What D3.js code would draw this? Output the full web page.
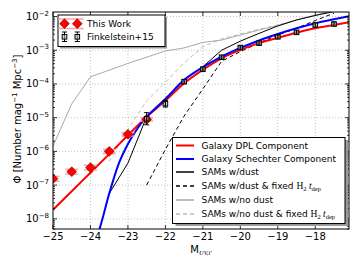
<!DOCTYPE html>
<html><head><meta charset="utf-8">
<script src="https://cdn.jsdelivr.net/npm/d3@7"></script>
<style>body{margin:0;background:#fff} svg{font-family:"DejaVu Sans",sans-serif}</style>
</head><body><svg id="c" width="360" height="270"></svg>
<script>
// ---- data ----
const xTicks = [-25,-24,-23,-22,-21,-20,-19,-18];
const xTickLabels = ["−25","−24","−23","−22","−21","−20","−19","−18"];
const yTicks = [1e-8,1e-7,1e-6,1e-5,1e-4,1e-3,1e-2];
const yTickExps = ["−8","−7","−6","−5","−4","−3","−2"];

const thisWorkM   = [-25,-24.5,-24,-23.5,-23,-22.5];
const thisWorkPhi = [1.55e-7,2.5e-7,3.3e-7,1.0e-6,3.2e-6,8.9e-6];
const thisWorkErrDex = [0.07,0.07,0.07,0.06,0.05,0.05];

const finkM   = [-22.5,-22,-21.5,-21,-20.5,-20,-19.5,-19,-18.5,-18,-17.5];
const finkPhi = [9.3e-6,2.6e-5,1.17e-4,2.75e-4,6.2e-4,1.2e-3,1.62e-3,2.5e-3,3.4e-3,5.6e-3,6.0e-3];
const finkErrDex = [0.18,0.1,0.06,0.04,0.04,0.04,0.04,0.04,0.04,0.04,0.04];

const dplM   = [-25,-24.5,-24,-23.5,-23,-22.5,-22,-21.5,-21,-20.5,-20,-19.5,-19,-18.5,-18,-17.5,-17.1];
const dplPhi = [1.86e-8,6.6e-8,2.34e-7,8.3e-7,3.0e-6,1.07e-5,3.16e-5,1.05e-4,2.63e-4,5.75e-4,1.02e-3,1.62e-3,2.34e-3,3.31e-3,4.47e-3,5.62e-3,6.76e-3];

const schM   = [-23.9,-23.75,-23.5,-23.25,-23,-22.75,-22.5,-22,-21.5,-21,-20.5,-20,-19.5,-19,-18.5,-18,-17.5,-17.1];
const schPhi = [1.78e-9,5.4e-9,5.6e-8,4.2e-7,1.66e-6,4.7e-6,1.05e-5,3.55e-5,1.32e-4,3.16e-4,6.46e-4,1.17e-3,1.95e-3,3.02e-3,4.47e-3,6.3e-3,8.3e-3,1.02e-2];

const samDustM   = [-23.5,-23,-22.5,-22,-21.5,-21,-20.5,-20,-19.5,-19,-18.5,-18,-17.5];
const samDustPhi = [5.6e-8,4.5e-7,1.07e-5,3.8e-5,1.32e-4,3.24e-4,1.0e-3,1.86e-3,3.16e-3,5.25e-3,7.9e-3,1.07e-2,1.41e-2];

const samDustFixM   = [-22.5,-22,-21.5,-21,-20.5,-20,-19.5,-19,-18.5,-18,-17.5];
const samDustFixPhi = [1.0e-7,1.15e-6,1.12e-5,7.1e-5,4.7e-4,9.1e-4,1.66e-3,2.82e-3,4.47e-3,7.6e-3,1.26e-2];

const samNoDustM   = [-25,-24.5,-24,-23,-22,-21.5,-21,-20.5,-20,-19.5,-19,-18.5,-18,-17.5];
const samNoDustPhi = [1.45e-6,2.57e-5,1.62e-4,4.07e-4,9.5e-4,1.17e-3,1.7e-3,2.0e-3,2.82e-3,3.98e-3,5.4e-3,7.9e-3,1.1e-2,1.48e-2];

const samNoDustFixM   = [-23.5,-23,-22.5,-22,-21.5,-21,-20.5,-20,-19.5,-19,-18.5,-18,-17.5];
const samNoDustFixPhi = [5.0e-7,4.5e-6,3.16e-5,1.12e-4,4.2e-4,1.26e-3,2.19e-3,3.0e-3,4.2e-3,5.6e-3,7.9e-3,1.1e-2,1.48e-2];

// ---- layout ----
const L=53, R=349, T=12, B=229;
const svg = d3.select("#c");
const x = d3.scaleLinear().domain([-25,-17.1]).range([L,R]);
const y = d3.scaleLog().domain([5e-9,1.36e-2]).range([B,T]);

svg.append("defs").append("clipPath").attr("id","clip")
  .append("rect").attr("x",L).attr("y",T).attr("width",R-L).attr("height",B-T);

// grid
const grid = svg.append("g").attr("stroke","#000").attr("stroke-opacity",0.4)
  .attr("stroke-width",0.6).attr("stroke-dasharray","1,2");
xTicks.slice(1).forEach(t=>grid.append("line").attr("x1",x(t)).attr("x2",x(t)).attr("y1",T).attr("y2",B));
yTicks.forEach(t=>grid.append("line").attr("x1",L).attr("x2",R).attr("y1",y(t)).attr("y2",y(t)));

const plot = svg.append("g").attr("clip-path","url(#clip)");
const zip=(a,b)=>a.map((v,i)=>[v,b[i]]);
const lin = d3.line().x(d=>x(d[0])).y(d=>y(d[1]));
const smooth = d3.line().x(d=>x(d[0])).y(d=>y(d[1])).curve(d3.curveMonotoneX);

function path(gen,data,color,w,dash){
  const p=plot.append("path").attr("d",gen(data)).attr("fill","none")
   .attr("stroke",color).attr("stroke-width",w).attr("stroke-linejoin","round");
  if(dash) p.attr("stroke-dasharray",dash);
}
path(lin,zip(samNoDustFixM,samNoDustFixPhi),"#bdbdbd",1,"4,3");
path(lin,zip(samNoDustM,samNoDustPhi),"#a8a8a8",1);
path(lin,zip(samDustFixM,samDustFixPhi),"#000",1,"4,3");
path(lin,zip(samDustM,samDustPhi),"#000",1);
path(smooth,zip(dplM,dplPhi),"#ff0000",2);
path(smooth,zip(schM,schPhi),"#0000ff",2);

// This Work error bars + diamonds
const pink="#f5a3a3";
thisWorkM.forEach((m,i)=>{
  const cx=x(m), v=thisWorkPhi[i], e=thisWorkErrDex[i];
  const y1=y(v*Math.pow(10,e)), y2=y(v/Math.pow(10,e));
  plot.append("line").attr("x1",cx).attr("x2",cx).attr("y1",y1).attr("y2",y2).attr("stroke",pink).attr("stroke-width",1.5);
  [y1,y2].forEach(yy=>plot.append("line").attr("x1",cx-6.5).attr("x2",cx+6.5).attr("y1",yy).attr("y2",yy).attr("stroke",pink).attr("stroke-width",1.5));
});
const diamond = d3.symbol().type(d3.symbolSquare).size(48);
thisWorkM.forEach((m,i)=>{
  plot.append("path").attr("d",diamond()).attr("transform",`translate(${x(m)},${y(thisWorkPhi[i])}) rotate(45)`)
    .attr("fill","#ff0000").attr("stroke","#700").attr("stroke-width",0.6);
});
// Finkelstein points
finkM.forEach((m,i)=>{
  const cx=x(m), v=finkPhi[i], e=finkErrDex[i];
  const y1=y(v*Math.pow(10,e)), y2=y(v/Math.pow(10,e));
  plot.append("line").attr("x1",cx).attr("x2",cx).attr("y1",y1).attr("y2",y2).attr("stroke","#000").attr("stroke-width",1);
  [y1,y2].forEach(yy=>plot.append("line").attr("x1",cx-2.5).attr("x2",cx+2.5).attr("y1",yy).attr("y2",yy).attr("stroke","#000").attr("stroke-width",1));
  plot.append("rect").attr("x",cx-2.3).attr("y",y(v)-2.3).attr("width",4.6).attr("height",4.6)
    .attr("fill","#bbb").attr("fill-opacity",0.6).attr("stroke","#000").attr("stroke-width",1);
  plot.append("line").attr("x1",cx).attr("x2",cx).attr("y1",y(v)-2.3).attr("y2",y(v)+2.3).attr("stroke","#000").attr("stroke-width",1);
});

// frame
svg.append("rect").attr("x",L).attr("y",T).attr("width",R-L).attr("height",B-T)
  .attr("fill","none").attr("stroke","#000").attr("stroke-width",1);

// ticks
const tk = svg.append("g").attr("stroke","#000").attr("stroke-width",0.8);
xTicks.forEach(t=>{
  tk.append("line").attr("x1",x(t)).attr("x2",x(t)).attr("y1",B).attr("y2",B-4);
  tk.append("line").attr("x1",x(t)).attr("x2",x(t)).attr("y1",T).attr("y2",T+4);
});
yTicks.forEach(t=>{
  tk.append("line").attr("x1",L).attr("x2",L+4).attr("y1",y(t)).attr("y2",y(t));
  tk.append("line").attr("x1",R).attr("x2",R-4).attr("y1",y(t)).attr("y2",y(t));
});
const [y0,y1d]=y.domain();
for(let d=-9; d<=-2; d++){
  for(let k=2;k<=9;k++){
    const v=k*Math.pow(10,d);
    if(v<y0||v>y1d) continue;
    tk.append("line").attr("x1",L).attr("x2",L+2).attr("y1",y(v)).attr("y2",y(v));
    tk.append("line").attr("x1",R).attr("x2",R-2).attr("y1",y(v)).attr("y2",y(v));
  }
}

// tick labels
xTicks.forEach((t,i)=>{
  svg.append("text").attr("x",x(t)).attr("y",240).attr("text-anchor","middle")
    .attr("font-size",10).text(xTickLabels[i]);
});
yTicks.forEach((t,i)=>{
  const tx=svg.append("text").attr("x",49).attr("y",y(t)+3.5).attr("text-anchor","end").attr("font-size",10);
  tx.append("tspan").text("10");
  tx.append("tspan").attr("font-size",7).attr("dy",-4.5).text(yTickExps[i]);
});

// axis labels
const xl=svg.append("text").attr("x",201).attr("y",253).attr("text-anchor","middle").attr("font-size",10);
xl.append("tspan").text("M");
xl.append("tspan").attr("font-size",6.5).attr("dy",2).attr("font-family","Liberation Serif").attr("font-style","italic").text("UV,i′");

const yl=svg.append("text").attr("transform","translate(21,119) rotate(-90)").attr("text-anchor","middle").attr("font-size",10);
yl.append("tspan").text("Φ [Number mag");
yl.append("tspan").attr("font-size",7).attr("dy",-4).text("−1");
yl.append("tspan").attr("dy",4).text(" Mpc");
yl.append("tspan").attr("font-size",7).attr("dy",-4).text("−3");
yl.append("tspan").attr("dy",4).text("]");

// legend 1
const l1=svg.append("g");
l1.append("rect").attr("x",60).attr("y",17).attr("width",107).attr("height",31.5).attr("fill","#999");
l1.append("rect").attr("x",58).attr("y",15).attr("width",107).attr("height",31.5).attr("fill","#fff").attr("stroke","#000").attr("stroke-width",1);
[64.5,77.3].forEach(cx=>{
  l1.append("line").attr("x1",cx).attr("x2",cx).attr("y1",19).attr("y2",28.5).attr("stroke",pink).attr("stroke-width",1.5);
  [19,28.5].forEach(yy=>l1.append("line").attr("x1",cx-6.3).attr("x2",cx+6.3).attr("y1",yy).attr("y2",yy).attr("stroke",pink).attr("stroke-width",1.5));
  l1.append("path").attr("d",diamond()).attr("transform",`translate(${cx},23.7) rotate(45)`).attr("fill","#ff0000").attr("stroke","#700").attr("stroke-width",0.6);
  l1.append("line").attr("x1",cx).attr("x2",cx).attr("y1",32).attr("y2",41.5).attr("stroke","#000");
  [32,41.5].forEach(yy=>l1.append("line").attr("x1",cx-2.5).attr("x2",cx+2.5).attr("y1",yy).attr("y2",yy).attr("stroke","#000"));
  l1.append("rect").attr("x",cx-2.3).attr("y",34.5).attr("width",4.6).attr("height",4.6).attr("fill","#bbb").attr("fill-opacity",0.6).attr("stroke","#000");
});
l1.append("text").attr("x",87).attr("y",27.2).attr("font-size",9).text("This Work");
l1.append("text").attr("x",87).attr("y",40.2).attr("font-size",9).text("Finkelstein+15");

// legend 2
const l2=svg.append("g");
l2.append("rect").attr("x",175.5).attr("y",140).attr("width",172.5).attr("height",86).attr("fill","#999");
l2.append("rect").attr("x",172.5).attr("y",137.5).attr("width",172.5).attr("height",86).attr("fill","#fff").attr("stroke","#000").attr("stroke-width",1);
const legItems=[
  {c:"#ff0000",w:2,d:null,t:"Galaxy DPL Component",y:145.5},
  {c:"#0000ff",w:2,d:null,t:"Galaxy Schechter Component",y:159},
  {c:"#000",w:1.5,d:null,t:"SAMs w/dust",y:172},
  {c:"#000",w:1.5,d:"4,3",t:"SAMs w/dust & fixed ",y:186,m:true},
  {c:"#a8a8a8",w:1.5,d:null,t:"SAMs w/no dust",y:200},
  {c:"#bdbdbd",w:1.5,d:"4,3",t:"SAMs w/no dust & fixed ",y:214,m:true}
];
legItems.forEach(it=>{
  const ln=l2.append("line").attr("x1",176).attr("x2",194).attr("y1",it.y).attr("y2",it.y).attr("stroke",it.c).attr("stroke-width",it.w);
  if(it.d) ln.attr("stroke-dasharray",it.d);
  const tx=l2.append("text").attr("x",201.5).attr("y",it.y+3.3).attr("font-size",9);
  tx.append("tspan").text(it.t);
  if(it.m){
    tx.append("tspan").attr("font-family","Liberation Serif").attr("font-size",9.5).text("H");
    tx.append("tspan").attr("font-family","Liberation Serif").attr("font-size",6.5).attr("dy",1.8).text("2");
    tx.append("tspan").attr("font-family","Liberation Serif").attr("font-style","italic").attr("font-size",9.5).attr("dy",-1.8).text(" t");
    tx.append("tspan").attr("font-family","Liberation Serif").attr("font-size",6.5).attr("dy",1.8).text("dep");
  }
});
</script></body></html>
